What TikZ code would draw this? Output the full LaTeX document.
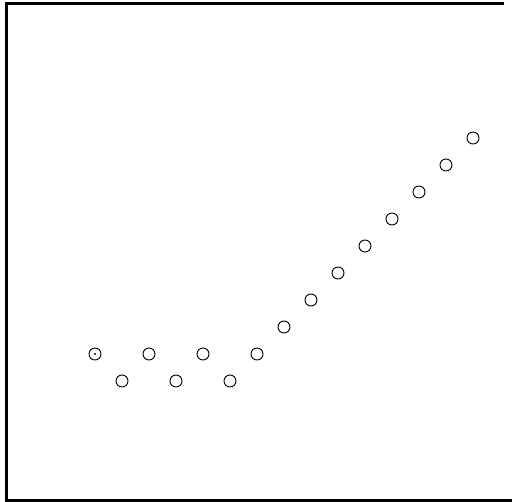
\documentclass[tikz,border=0pt]{standalone}
\begin{document}
\begin{tikzpicture}[x=1pt,y=-1pt,
  pt/.style={draw,circle,minimum size=12pt,inner sep=0pt,line width=0.9pt},
  frame/.style={line width=3pt}]
\useasboundingbox (0,0) rectangle (512,502);
\coordinate (tl) at (6.5,3.5);
\coordinate (tr) at (504,3.5);
\coordinate (bl) at (6.5,500.5);
\coordinate (br) at (512,500.5);
\draw[frame] (tr) -- (tl) -- (bl) -- (br);
\foreach \i/\x/\y in {1/95/354,2/122/381,3/149/354,4/176/381,5/203/354,6/230/381,7/257/354,8/284/327,9/311/300,10/338/273,11/365/246,12/392/219,13/419/192,14/446/165,15/473/138}
  \node[pt] (p\i) at (\x,\y) {};
\fill (p1.center) circle (1.2pt);
\end{tikzpicture}
\end{document}
